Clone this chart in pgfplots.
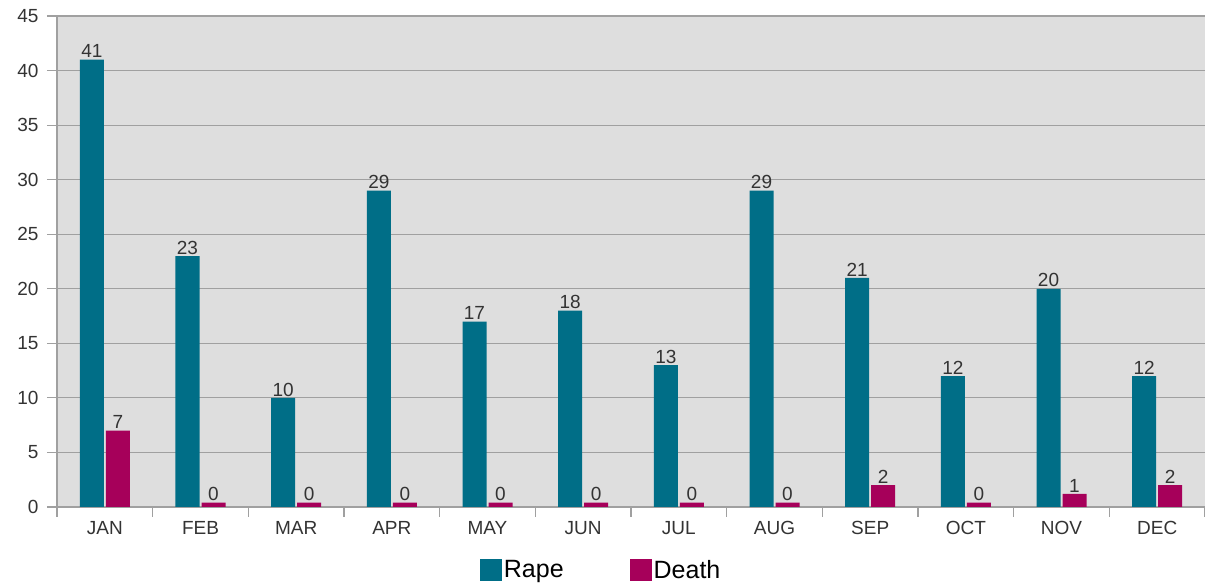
\documentclass[border=0pt]{standalone}
\usepackage{pgfplots}
\pgfplotsset{compat=1.18}
\usepackage{fontspec}
\setmainfont{Liberation Sans}
\definecolor{rapec}{RGB}{0,110,135}
\definecolor{deathc}{RGB}{166,0,90}
\definecolor{bgc}{RGB}{222,222,222}
\definecolor{gridc}{RGB}{160,160,160}
\begin{document}
\begin{tikzpicture}[x=1pt,y=1pt]
\useasboundingbox (-57,-76) rectangle (1148,507);
\begin{axis}[
  at={(0,0)}, anchor=south west,
  scale only axis, width=1148pt, height=491pt,
  xmin=-0.5, xmax=11.5, ymin=0, ymax=45,
  ybar=2pt, bar width=24pt,
  axis background/.style={fill=bgc},
  axis x line*=bottom, axis y line*=left,
  axis line style={-, gridc, line width=1.2pt},
  xtick={-0.5,0.5,...,11.5},
  xticklabels={JAN,FEB,MAR,APR,MAY,JUN,JUL,AUG,SEP,OCT,NOV,DEC},
  x tick label as interval,
  ytick={0,5,...,45},
  ymajorgrids,
  grid style={gridc, line width=1.2pt},
  tick align=outside,
  major tick length=10pt,
  tick style={gridc, line width=1.2pt},
  /pgf/number format/assume math mode=true,
  ticklabel style={font=\fontsize{19}{21}\selectfont, text=black!80},
  xticklabel style={yshift=-1pt},
  yticklabel style={xshift=-5pt},
  nodes near coords,
  point meta=explicit symbolic,
  every node near coord/.append style={font=\fontsize{19}{21}\selectfont, text=black!80, inner sep=1.5pt},
  legend style={at={(axis description cs:0.474,-0.128)}, anchor=center, draw=none, fill=none,
    font=\fontsize{25}{28}\selectfont, text=black, legend columns=2,
    /tikz/every even column/.append style={column sep=64pt}},
  legend image code/.code={\fill[#1] (0pt,-11pt) rectangle (22pt,11pt);},
]
\addplot[fill=rapec, draw=none] coordinates {
 (0,41) [41] (1,23) [23] (2,10) [10] (3,29) [29] (4,17) [17] (5,18) [18]
 (6,13) [13] (7,29) [29] (8,21) [21] (9,12) [12] (10,20) [20] (11,12) [12]};
\addplot[fill=deathc, draw=none] coordinates {
 (0,7) [7] (1,0.4) [0] (2,0.4) [0] (3,0.4) [0] (4,0.4) [0] (5,0.4) [0]
 (6,0.4) [0] (7,0.4) [0] (8,2) [2] (9,0.4) [0] (10,1.2) [1] (11,2) [2]};
\legend{Rape,Death}
\end{axis}
\end{tikzpicture}
\end{document}
